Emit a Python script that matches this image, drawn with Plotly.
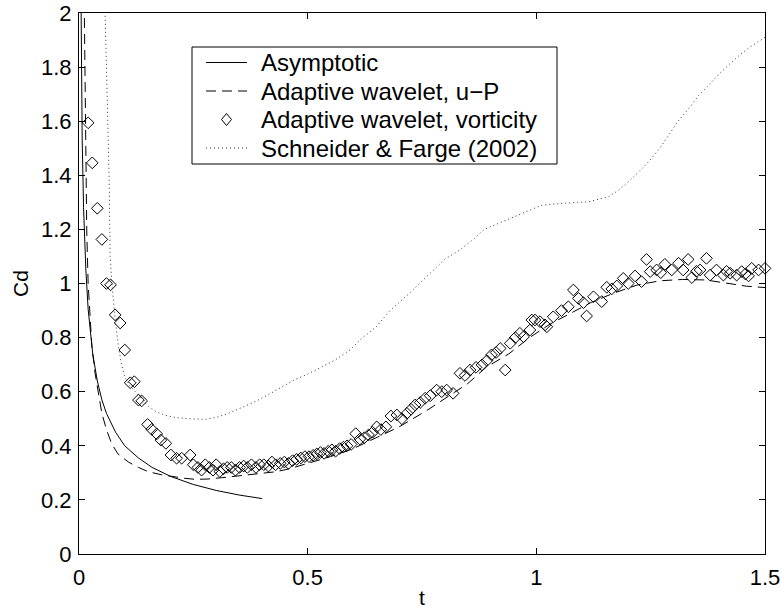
import plotly.graph_objects as go

# Asymptotic solution
asym_t = [0.003, 0.004, 0.005, 0.007, 0.01, 0.015, 0.02, 0.03, 0.04, 0.05, 0.06, 0.08,
          0.10, 0.13, 0.16, 0.20, 0.25, 0.30, 0.35, 0.40]
asym_cd = [2.34, 2.02, 1.81, 1.53, 1.28, 1.05, 0.905, 0.74, 0.64, 0.57, 0.52, 0.45,
           0.40, 0.355, 0.32, 0.287, 0.257, 0.235, 0.218, 0.205]

# Adaptive wavelet, u-P
up_t = [0.011, 0.0125, 0.0135, 0.0145, 0.017, 0.020, 0.024, 0.028, 0.035, 0.042, 0.05, 0.06,
        0.071, 0.085, 0.108, 0.13, 0.152, 0.18, 0.203, 0.23, 0.254, 0.28, 0.312, 0.34, 0.37,
        0.40, 0.43, 0.46, 0.487, 0.52, 0.55, 0.6, 0.65, 0.7, 0.76, 0.80, 0.85, 0.89, 0.94,
        0.985, 1.03, 1.075, 1.12, 1.17, 1.22, 1.27, 1.32, 1.37, 1.42, 1.46, 1.5]
up_cd = [2.1, 1.85, 1.6, 1.4, 1.19, 1.0, 0.87, 0.77, 0.67, 0.594, 0.52, 0.46,
         0.41, 0.37, 0.34, 0.32, 0.304, 0.293, 0.286, 0.28, 0.276, 0.277, 0.282, 0.287, 0.292,
         0.297, 0.304, 0.315, 0.329, 0.345, 0.36, 0.39, 0.43, 0.47, 0.53, 0.575, 0.63, 0.69, 0.74,
         0.80, 0.85, 0.89, 0.93, 0.965, 0.994, 1.01, 1.015, 1.013, 1.0, 0.99, 0.985]

# Adaptive wavelet, vorticity
vort_t = [0.020, 0.029, 0.040, 0.050, 0.060, 0.069, 0.079, 0.090, 0.100, 0.112, 0.121, 0.130,
          0.137, 0.150, 0.159, 0.170, 0.179, 0.190, 0.201, 0.2135, 0.2245, 0.243, 0.250,
          0.26, 0.268, 0.276, 0.285, 0.293, 0.30, 0.308, 0.316, 0.324, 0.333, 0.342, 0.351,
          0.36, 0.368, 0.377, 0.387, 0.395, 0.404, 0.414, 0.422, 0.43, 0.44, 0.449, 0.458,
          0.467, 0.476, 0.485, 0.494, 0.503, 0.512, 0.52, 0.528, 0.536, 0.545, 0.553, 0.561,
          0.57, 0.578, 0.586, 0.595, 0.605, 0.614, 0.624, 0.633, 0.642, 0.651, 0.66, 0.671,
          0.682, 0.695, 0.706, 0.717, 0.726, 0.735, 0.746, 0.757, 0.768, 0.782, 0.793, 0.804,
          0.818, 0.833, 0.844, 0.855, 0.868, 0.881, 0.892, 0.902, 0.912, 0.921, 0.932, 0.943,
          0.954, 0.964, 0.972, 0.986, 0.99, 0.997, 1.008, 1.019, 1.023, 1.037, 1.055, 1.07,
          1.081, 1.092, 1.103, 1.11, 1.125, 1.143, 1.154, 1.165, 1.176, 1.19, 1.201, 1.216,
          1.23, 1.241, 1.249, 1.263, 1.272, 1.281, 1.296, 1.311, 1.321, 1.332, 1.34, 1.35,
          1.358, 1.372, 1.38, 1.394, 1.409, 1.416, 1.424, 1.438, 1.449, 1.457, 1.464, 1.471,
          1.486, 1.5]
vort_cd = [1.594, 1.446, 1.278, 1.163, 1.00, 0.995, 0.884, 0.854, 0.754, 0.633, 0.637, 0.569,
           0.566, 0.479, 0.461, 0.444, 0.421, 0.409, 0.366, 0.354, 0.354, 0.366, 0.33,
           0.32, 0.31, 0.33, 0.32, 0.31, 0.33, 0.305, 0.315, 0.32, 0.32, 0.31, 0.32,
           0.325, 0.32, 0.33, 0.32, 0.33, 0.33, 0.325, 0.34, 0.33, 0.335, 0.34, 0.335,
           0.345, 0.35, 0.355, 0.36, 0.36, 0.365, 0.37, 0.375, 0.372, 0.38, 0.385, 0.38,
           0.39, 0.395, 0.40, 0.405, 0.445, 0.425, 0.43, 0.44, 0.45, 0.47, 0.46, 0.47,
           0.51, 0.514, 0.50, 0.52, 0.535, 0.551, 0.56, 0.576, 0.585, 0.606, 0.60, 0.606,
           0.594, 0.668, 0.66, 0.68, 0.69, 0.699, 0.715, 0.736, 0.745, 0.76, 0.68, 0.779,
           0.80, 0.816, 0.803, 0.828, 0.865, 0.865, 0.859, 0.847, 0.84, 0.877, 0.90, 0.914,
           0.976, 0.945, 0.929, 0.88, 0.951, 0.933, 0.986, 0.98, 0.991, 1.019, 1.0, 1.028,
           1.007, 1.089, 1.044, 1.05, 1.04, 1.071, 1.05, 1.075, 1.05, 1.089, 1.022, 1.045,
           1.05, 1.093, 1.031, 1.05, 1.031, 1.045, 1.038, 1.031, 1.044, 1.035, 1.028, 1.056,
           1.05, 1.056]

# Schneider & Farge (2002)
sf_t = [0.055, 0.057, 0.060, 0.063, 0.066, 0.068, 0.072, 0.079, 0.086, 0.093, 0.10, 0.11,
        0.126, 0.14, 0.152, 0.17, 0.19, 0.21, 0.24, 0.276, 0.30, 0.327, 0.355, 0.385, 0.415,
        0.443, 0.47, 0.50, 0.53, 0.56, 0.593, 0.618, 0.65, 0.68, 0.72, 0.76, 0.80, 0.833,
        0.86, 0.886, 0.92, 0.959, 0.985, 1.011, 1.04, 1.07, 1.09, 1.114, 1.135, 1.158, 1.18,
        1.202, 1.225, 1.246, 1.27, 1.29, 1.31, 1.335, 1.355, 1.379, 1.40, 1.423, 1.445,
        1.467, 1.485, 1.5]
sf_cd = [2.3, 2.0, 1.8, 1.6, 1.38, 1.1, 1.0, 0.87, 0.77, 0.70, 0.655, 0.625,
         0.595, 0.565, 0.545, 0.525, 0.512, 0.505, 0.50, 0.498, 0.505, 0.52, 0.54, 0.563, 0.59,
         0.618, 0.643, 0.665, 0.69, 0.717, 0.755, 0.797, 0.84, 0.90, 0.96, 1.025, 1.09, 1.124,
         1.16, 1.20, 1.225, 1.252, 1.27, 1.289, 1.294, 1.296, 1.30, 1.302, 1.31, 1.321, 1.345,
         1.377, 1.415, 1.451, 1.50, 1.551, 1.60, 1.65, 1.695, 1.737, 1.775, 1.812, 1.845,
         1.874, 1.895, 1.91]

x_ticks = [0, 0.5, 1, 1.5]
x_ticklabels = ["0", "0.5", "1", "1.5"]
y_ticks = [0, 0.2, 0.4, 0.6, 0.8, 1, 1.2, 1.4, 1.6, 1.8, 2]
y_ticklabels = ["0", "0.2", "0.4", "0.6", "0.8", "1", "1.2", "1.4", "1.6", "1.8", "2"]

legend_names = ["Asymptotic", "Adaptive wavelet, u\u2212P",
                "Adaptive wavelet, vorticity", "Schneider & Farge (2002)"]

FONT = "Liberation Sans, Arial, Helvetica, sans-serif"
W, H = 782, 609
ML, MR, MT, MB = 79, 17, 13, 55
PW, PH = W - ML - MR, H - MT - MB

DASH = "10px,6px"
DOT = "1px,3px"


def px2paper(px, py):
    return (px - ML) / PW, 1 - (py - MT) / PH


fig = go.Figure()
fig.add_trace(go.Scatter(x=asym_t, y=asym_cd, mode="lines", name=legend_names[0],
                         line=dict(color="black", width=1)))
fig.add_trace(go.Scatter(x=up_t, y=up_cd, mode="lines", name=legend_names[1],
                         line=dict(color="black", width=1, dash=DASH)))
fig.add_trace(go.Scatter(x=vort_t, y=vort_cd, mode="markers",
                         name=legend_names[2], cliponaxis=False,
                         marker=dict(symbol="diamond-open", size=9, color="black",
                                     line=dict(width=1, color="black"))))
fig.add_trace(go.Scatter(x=sf_t, y=sf_cd, mode="lines", name=legend_names[3],
                         line=dict(color="#333333", width=1, dash=DOT)))

axis_common = dict(showline=True, linecolor="black", linewidth=1, mirror="ticks",
                   ticks="inside", ticklen=6, tickcolor="black", showgrid=False,
                   zeroline=False, automargin=False,
                   tickfont=dict(family=FONT, size=22, color="black"))

fig.update_xaxes(range=[0, 1.5], tickvals=x_ticks, ticktext=x_ticklabels,
                 ticklabelstandoff=4,
                 title=dict(text="t", font=dict(family=FONT, size=21, color="black"),
                            standoff=0), **axis_common)
fig.update_yaxes(range=[0, 2], tickvals=y_ticks, ticktext=y_ticklabels,
                 ticklabelstandoff=2,
                 title=dict(text="Cd", font=dict(family=FONT, size=21, color="black"),
                            standoff=6), **axis_common)

# ---- manual legend (box, samples, labels) ----
shapes = []
annotations = []
bx0, by0 = px2paper(192, 47)
bx1, by1 = px2paper(557, 164)
shapes.append(dict(type="rect", xref="paper", yref="paper", x0=bx0, y0=by1, x1=bx1, y1=by0,
                   line=dict(color="black", width=1), fillcolor="white", layer="above"))
row_y = [62.5, 91, 119.5, 148]
sx0, sx1 = 206, 247
styles = [dict(color="black", width=1), dict(color="black", width=1, dash=DASH), None,
          dict(color="#333333", width=1, dash=DOT)]
for i, name in enumerate(legend_names):
    yy = row_y[i]
    if styles[i] is not None:
        a0, b0 = px2paper(sx0, yy)
        a1, b1 = px2paper(sx1, yy)
        shapes.append(dict(type="line", xref="paper", yref="paper", x0=a0, y0=b0, x1=a1, y1=b1,
                           line=styles[i], layer="above"))
    else:
        cx = (sx0 + sx1) / 2
        pts = [px2paper(cx, yy - 6), px2paper(cx + 5, yy), px2paper(cx, yy + 6),
               px2paper(cx - 5, yy)]
        path = "M " + " L ".join(f"{p[0]:.5f},{p[1]:.5f}" for p in pts) + " Z"
        shapes.append(dict(type="path", xref="paper", yref="paper", path=path,
                           line=dict(color="black", width=1), layer="above"))
    tx, ty = px2paper(259, yy)
    annotations.append(dict(text=name, xref="paper", yref="paper", x=tx, y=ty,
                            xanchor="left", yanchor="middle", showarrow=False,
                            font=dict(family=FONT, size=24, color="black")))

fig.update_layout(
    width=W, height=H,
    margin=dict(l=ML, r=MR, t=MT, b=MB, pad=0),
    paper_bgcolor="white", plot_bgcolor="white",
    font=dict(family=FONT, size=21, color="black"),
    showlegend=False,
    shapes=shapes,
    annotations=annotations,
)

fig.write_html("out.html")
